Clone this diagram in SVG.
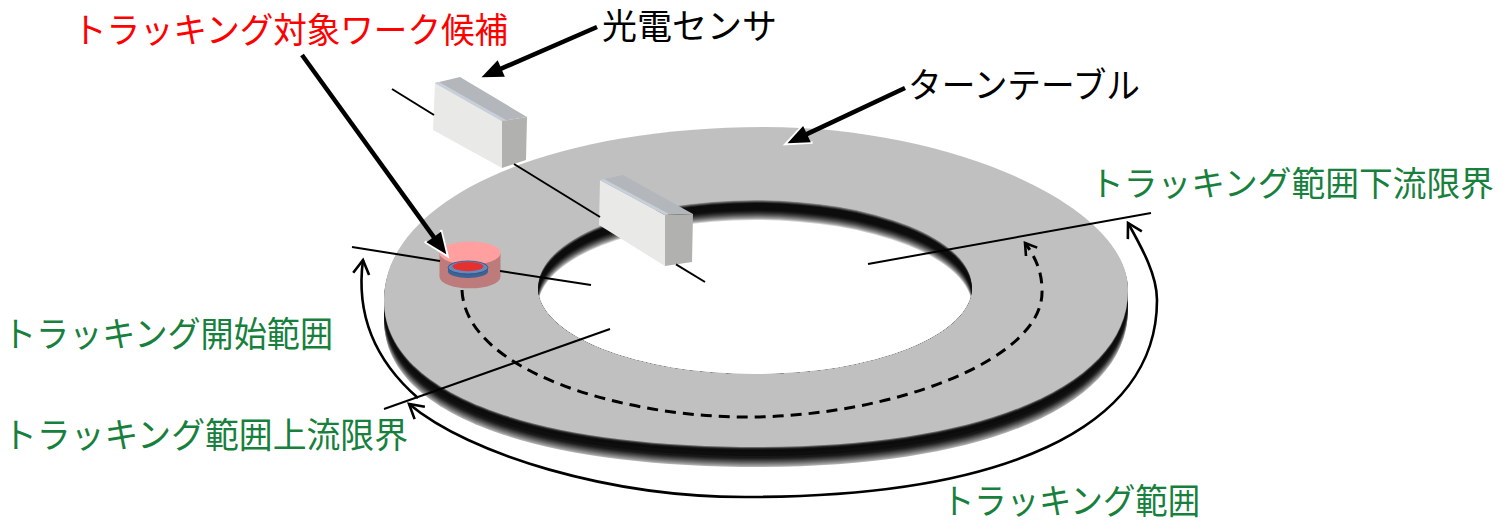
<svg xmlns="http://www.w3.org/2000/svg" width="1503" height="521" viewBox="0 0 1503 521">
<style>
.lbl{font-family:"Noto Sans CJK JP","Noto Sans CJK SC",sans-serif;font-size:35px}
.g{fill:#17803d}
.k{fill:#000}
.r{fill:#ff0000}
.thin{stroke:#000;stroke-width:2;fill:none}
.arc{stroke:#000;stroke-width:2.6;fill:none}
.dash{stroke:#000;stroke-width:3;fill:none;stroke-dasharray:11 7}
.ptr{stroke:#000;stroke-width:4.5;fill:none}
.front{fill:#e9e9e7}
.top{fill:#b3b6ba}
.side{fill:#b1b1af}
.chamf{fill:#c7cfd9}
</style>
<defs>
<path id="eo" d="M384,300 C384,200 545,127 765,127 C950,127 1128,205 1128,290 C1128,385 985,447 760,447 C535,447 384,395 384,300 Z"/>
<ellipse id="eh" cx="755" cy="287" rx="217" ry="87"/>
<clipPath id="holeClip"><ellipse cx="755" cy="287" rx="217" ry="87"/></clipPath>
<marker id="ptrHead" markerUnits="userSpaceOnUse" viewBox="-24 -24 48 48" markerWidth="48" markerHeight="48" refX="0" refY="0" orient="auto" overflow="visible">
<path d="M-16.5,-10 L8.5,0 L-16.5,10" fill="none" stroke="#fff" stroke-width="2.5"/>
<path d="M6.5,0 L-15,-9 L-15,9 Z" fill="#000"/>
</marker>
<marker id="open" markerUnits="userSpaceOnUse" viewBox="-24 -24 48 48" markerWidth="48" markerHeight="48" refX="0" refY="0" orient="auto-start-reverse" overflow="visible">
<path d="M-14,-8 L0,0 L-14,8" fill="none" stroke="#000" stroke-width="2.6"/>
</marker>
<marker id="openS" markerUnits="userSpaceOnUse" viewBox="-24 -24 48 48" markerWidth="48" markerHeight="48" refX="0" refY="0" orient="auto" overflow="visible">
<path d="M-11,-7 L0,0 L-11,7" fill="none" stroke="#000" stroke-width="2.6"/>
</marker>
</defs>

<g id="turntable">
<use href="#eo" y="20" fill="#b0b0b0"/>
<use href="#eo" y="19" fill="#9a9a9a"/>
<use href="#eo" y="18" fill="#878787"/>
<use href="#eo" y="17" fill="#747474"/>
<use href="#eo" y="16" fill="#626262"/>
<use href="#eo" y="15" fill="#505050"/>
<use href="#eo" y="14" fill="#404040"/>
<use href="#eo" y="13" fill="#303030"/>
<use href="#eo" y="12" fill="#222"/>
<use href="#eo" y="11" fill="#171717"/>
<use href="#eo" y="9" fill="#0e0e0e"/>
<use href="#eo" y="5" fill="#0b0b0b"/>
<use href="#eo" y="3" fill="#151515"/>
<use href="#eo" y="2" fill="#2a2a2a"/>
<use href="#eo" y="1" fill="#666"/>
<use href="#eo" fill="#c0c0c0"/>
<g clip-path="url(#holeClip)">
<use href="#eh" fill="#8a8a8a"/>
<use href="#eh" y="1" fill="#555"/>
<use href="#eh" y="2" fill="#2a2a2a"/>
<use href="#eh" y="3" fill="#0c0c0c"/>
<use href="#eh" y="10" fill="#121212"/>
<use href="#eh" y="11" fill="#1c1c1c"/>
<use href="#eh" y="12" fill="#2a2a2a"/>
<use href="#eh" y="13" fill="#3a3a3a"/>
<use href="#eh" y="14" fill="#4c4c4c"/>
<use href="#eh" y="15" fill="#606060"/>
<use href="#eh" y="16" fill="#777"/>
<use href="#eh" y="17" fill="#8e8e8e"/>
<use href="#eh" y="18" fill="#a8a8a8"/>
<use href="#eh" y="19" fill="#d0d0d0"/>
<use href="#eh" y="20" fill="#fff"/>
</g>
</g>

<g id="sensor1">
<polygon class="front" points="435,83 502,121 502,168 433,130"/>
<polygon class="top" points="435,83 460,77 527,117 502,121"/>
<polygon class="chamf" points="435,83 502,121 506,120 439,82"/>
<polygon class="side" points="502,121 527,117 526,160 502,168"/>
</g>

<g id="sensor2">
<polygon class="front" points="600,180 665,215 665,266 599,225"/>
<polygon class="top" points="600,180 623,175 693,214 665,215"/>
<polygon class="chamf" points="600,180 665,215 669,214 604,179"/>
<polygon class="side" points="665,215 693,214 692,262 665,266"/>
</g>

<g id="workpiece">
<path d="M439.5,253 L439.5,276.8 A30.5,11.5 0 0 0 500.5,276.8 L500.5,253 Z" fill="#bd7b7b"/>
<ellipse cx="470" cy="253" rx="30.5" ry="11.5" fill="#ff9f9f"/>
<path d="M448,267.5 L448,271.5 A20,6.5 0 0 0 488,271.5 L488,267.5 Z" fill="#3d6294"/>
<ellipse cx="468" cy="267.5" rx="20" ry="6.5" fill="#6489bf" stroke="#2f4f7f" stroke-width="0.8"/>
<ellipse cx="468" cy="266.6" rx="15.5" ry="4.6" fill="#e53030"/>
</g>

<g id="labels">
<text id="lbl-work" class="lbl r" x="73" y="43" textLength="435" lengthAdjust="spacingAndGlyphs">トラッキング対象ワーク候補</text>
<text id="lbl-sensor" class="lbl k" x="602" y="39" textLength="175" lengthAdjust="spacingAndGlyphs">光電センサ</text>
<text id="lbl-table" class="lbl k" x="908" y="98" textLength="232" lengthAdjust="spacingAndGlyphs">ターンテーブル</text>
<text id="lbl-down" class="lbl g" x="1090" y="196" font-size="34" style="font-size:34px" textLength="404" lengthAdjust="spacingAndGlyphs">トラッキング範囲下流限界</text>
<text id="lbl-start" class="lbl g" x="3" y="347" textLength="330" lengthAdjust="spacingAndGlyphs">トラッキング開始範囲</text>
<text id="lbl-up" class="lbl g" x="3" y="448" textLength="405" lengthAdjust="spacingAndGlyphs">トラッキング範囲上流限界</text>
<text id="lbl-range" class="lbl g" x="942" y="514" textLength="258" lengthAdjust="spacingAndGlyphs">トラッキング範囲</text>
</g>

<g id="connectors">
<line class="thin" x1="392" y1="89" x2="434" y2="115"/>
<line class="thin" x1="514" y1="164" x2="600" y2="217"/>
<line class="thin" x1="676" y1="264.3" x2="705" y2="282"/>
<line class="thin" x1="352" y1="247" x2="440" y2="261"/>
<line class="thin" x1="500" y1="271" x2="591" y2="285"/>
<line class="thin" x1="384" y1="409" x2="610" y2="329"/>
<line class="thin" x1="868" y1="264" x2="1151" y2="213"/>
<path class="arc" d="M418,398 C380,365 355,320 363,260" marker-end="url(#open)"/>
<path class="arc" d="M409,404 C470,455 610,497 745,497 C1000,497 1157,430 1157,300 C1157,275 1142,248 1128,223" marker-start="url(#open)" marker-end="url(#open)"/>
<path class="dash" d="M462,290 C465,370 620,417 747,417 C890,417 1045,360 1042,290 C1042,270 1034,255 1025,243" marker-end="url(#openS)"/>
<line class="ptr" x1="302" y1="55" x2="442.5" y2="249.1" marker-end="url(#ptrHead)"/>
<line class="ptr" x1="597" y1="27" x2="487.5" y2="74.6" marker-end="url(#ptrHead)"/>
<line class="ptr" x1="905" y1="88" x2="793.4" y2="140.4" marker-end="url(#ptrHead)"/>
</g>
</svg>
